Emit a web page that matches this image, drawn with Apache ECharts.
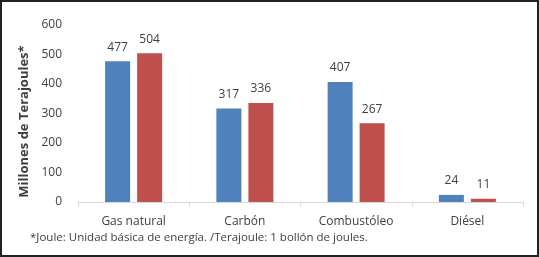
<!DOCTYPE html>
<html>
<head>
<meta charset="utf-8">
<script src="https://cdn.jsdelivr.net/npm/echarts@6/dist/echarts.min.js"></script>
<style>
  html, body { margin: 0; padding: 0; background: #fff; }
  #chart { width: 539px; height: 257px; box-sizing: border-box; border: 2px solid #222; }
</style>
</head>
<body>
<div id="chart"></div>
<script>
// categorías y valores
const categories = ['Gas natural', 'Carbón', 'Combustóleo', 'Diésel'];
const serieA = [477, 317, 407, 24];
const serieB = [504, 336, 267, 11];
const yTicks = [0, 100, 200, 300, 400, 500, 600];
const nota = '*Joule: Unidad básica de energía. /Terajoule: 1 bollón de joules.';

const fuente = '"Open Sans", "Liberation Sans", sans-serif';
const myChart = echarts.init(document.getElementById('chart'));

myChart.setOption({
  backgroundColor: '#fff',
  animation: false,
  grid: { left: 76, right: 14, top: 23, bottom: 53 },
  xAxis: {
    type: 'category',
    data: categories,
    axisLine: { lineStyle: { color: '#d9d9d9' } },
    axisTick: { show: true, alignWithLabel: false, length: 5, lineStyle: { color: '#d9d9d9' } },
    axisLabel: { color: '#404040', fontFamily: fuente, fontSize: 12, margin: 14 }
  },
  yAxis: {
    type: 'value',
    min: yTicks[0],
    max: yTicks[yTicks.length - 1],
    interval: 100,
    name: 'Millones de Terajoules*',
    nameLocation: 'middle',
    nameGap: 44,
    nameTextStyle: { color: '#404040', fontFamily: fuente, fontSize: 13, fontWeight: 'bold', padding: [0, 16, 0, 0] },
    axisLine: { show: false },
    axisTick: { show: false },
    splitLine: { show: false },
    axisLabel: { color: '#404040', fontFamily: fuente, fontSize: 12, margin: 16 }
  },
  series: [
    {
      type: 'bar',
      data: serieA,
      barWidth: 25,
      barGap: '28%',
      itemStyle: { color: '#4f81bd' },
      label: { show: true, position: 'top', distance: 8, color: '#404040', fontFamily: fuente, fontSize: 12 }
    },
    {
      type: 'bar',
      data: serieB,
      barWidth: 25,
      itemStyle: { color: '#c0504d' },
      label: { show: true, position: 'top', distance: 8, color: '#404040', fontFamily: fuente, fontSize: 12 }
    }
  ],
  graphic: [
    {
      type: 'text',
      left: 28,
      top: 230,
      style: { text: nota, fill: '#404040', font: '11.5px ' + fuente }
    }
  ]
});
</script>
</body>
</html>
